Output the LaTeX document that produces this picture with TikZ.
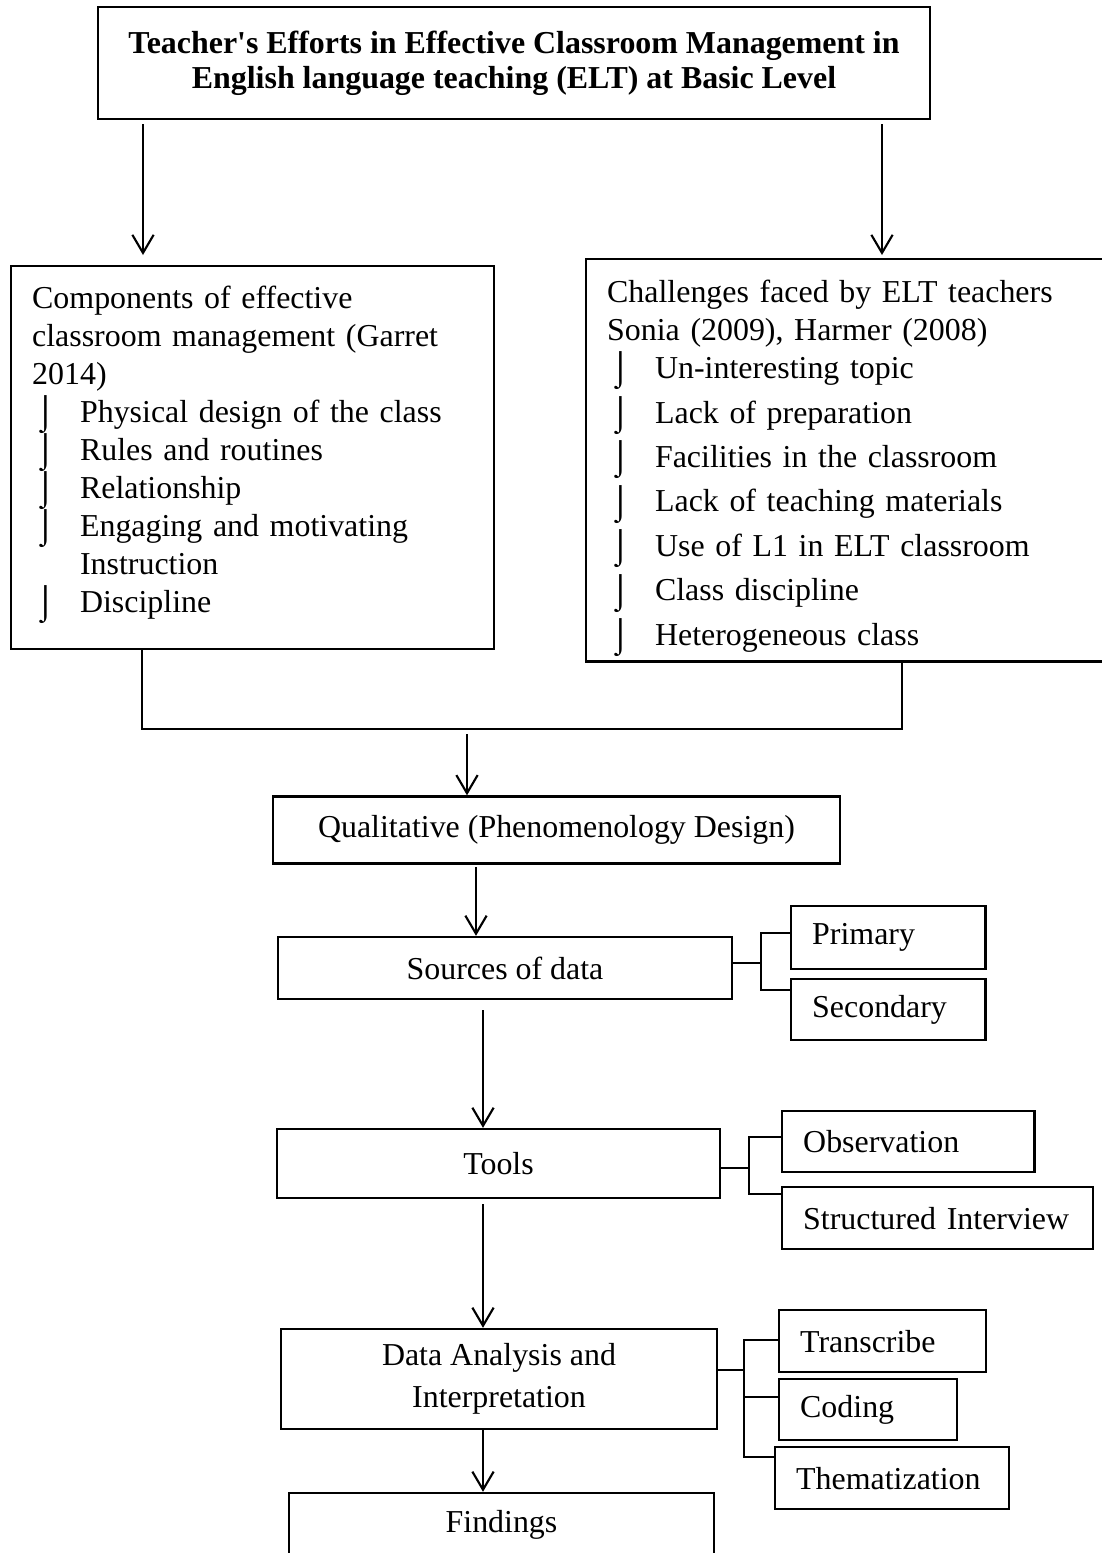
\documentclass[tikz,border=0pt]{standalone}
\usepackage{fontspec}
\usepackage{graphicx}
\setmainfont{Liberation Serif}
\usetikzlibrary{arrows.meta}
\newcommand{\bul}{\smash{\raisebox{-0.5pt}{\scalebox{1.1}[1.05]{⌡}}}}
\newcommand{\itm}[1]{\makebox[18pt][l]{\hspace{1pt}\bul}#1}
\newcommand{\cont}[1]{\makebox[18pt]{}#1}
\tikzset{
block/.style={
  draw, 
  rectangle, 
  line width=0.9pt, 
  inner sep=0pt, 
  align=center
  }, 
listbox/.style={
  block, 
  anchor=north west, 
  inner xsep=7.9pt, 
  align=left
  }, 
line/.style={-{Straight Barb[length=6.8pt,width=8pt]}, line width=0.8pt}, 
link/.style={line width=0.8pt}
}
\begin{document}
\begin{tikzpicture}[x=0.376pt, y=-0.376pt, font=\fontsize{12pt}{14.3pt}\selectfont]
\useasboundingbox (0,0) rectangle (1102,1553);

\node[block, minimum width=312.8pt, minimum height=42.1pt, font=\fontsize{12pt}{13.2pt}\selectfont\bfseries]	(title)	at (514,63)	{Teacher\textquotesingle s Efforts in Effective Classroom Management in \\ English language teaching (ELT) at Basic Level};
\node[listbox, text width=165.8pt, minimum height=144pt]	(comp)	at (10,265)	{Components of effective \\ classroom management (Garret \\ 2014) \\ \itm{Physical design of the class} \\ \itm{Rules and routines} \\ \itm{Relationship} \\ \itm{Engaging and motivating} \\ \cont{Instruction} \\ \itm{Discipline}\rule[-6.4pt]{0pt}{0pt}};
\node[listbox, text width=181.6pt, minimum height=151.2pt]	(chal)	at (585,258)	{\rule{0pt}{12.8pt}Challenges faced by ELT teachers \\ Sonia (2009), Harmer (2008) \\ \itm{Un-interesting topic} \\[2.4pt] \itm{Lack of preparation} \\[2.4pt] \itm{Facilities in the classroom} \\[2.4pt] \itm{Lack of teaching materials} \\[2.4pt] \itm{Use of L1 in ELT classroom} \\[2.4pt] \itm{Class discipline} \\[2.4pt] \itm{Heterogeneous class}};

\node[block, minimum width=213.2pt, minimum height=25.2pt]	(qual)	at (556.5,830)	{Qualitative (Phenomenology Design)};
\node[block, minimum width=170.7pt, minimum height=23.3pt]	(sources)	at (505,968)	{Sources of data};
\node[block, minimum width=166.6pt, minimum height=25.9pt]	(tools)	at (498.5,1163.5)	{Tools};
\node[block, minimum width=163.9pt, minimum height=37.6pt, font=\fontsize{12pt}{15.8pt}\selectfont]	(da)	at (499,1379)	{Data Analysis and \\ Interpretation};
\node[block, minimum width=159.8pt, minimum height=23.7pt]	(findings)	at (501.5,1524.5)	{Findings};

\node[listbox, text width=57.2pt, minimum height=23.7pt]	(primary)	at (790,905)	{Primary};
\node[listbox, text width=57.2pt, minimum height=22.9pt]	(secondary)	at (790,978)	{Secondary};
\node[listbox, text width=79pt, minimum height=22.9pt]	(observation)	at (781,1110)	{Observation};
\node[listbox, text width=101pt, minimum height=23.3pt]	(interview)	at (781,1186)	{Structured Interview};
\node[listbox, text width=62pt, minimum height=23.3pt]	(transcribe)	at (778,1309)	{Transcribe};
\node[listbox, text width=51.1pt, minimum height=22.9pt]	(coding)	at (778,1378)	{Coding};
\node[listbox, text width=72.2pt, minimum height=23.3pt]	(thematization)	at (774,1446)	{Thematization};

% arrow ends and joints
\coordinate (ta) at (143,255);
\coordinate (tb) at (882,255);
\coordinate (ml) at (142,729);
\coordinate (mr) at (902,729);
\coordinate (mq) at (467,734);
\coordinate (c1) at (476,0);
\coordinate (c2) at (483,0);
\coordinate (sb) at (761,963);
\coordinate (sp) at (761,933);
\coordinate (ss) at (761,990);
\coordinate (tm) at (749,1168);
\coordinate (tp) at (749,1137);
\coordinate (ts) at (749,1194);
\coordinate (db) at (744,1370);
\coordinate (dt) at (744,1340);
\coordinate (dc) at (744,1397);
\coordinate (dm) at (744,1457);

\draw[line, shorten <=1.5pt] (title.south -| ta) -- (ta);
\draw[line, shorten <=1.5pt] (title.south -| tb) -- (tb);
\draw[link] (comp.south -| ml) -- (ml) -- (mr) -- (chal.south -| mr);
\draw[line] (mq) -- (qual.north -| mq);
\draw[line, shorten <=1pt] (qual.south -| c1) -- (sources.north -| c1);
\draw[line, shorten <=3.8pt] (sources.south -| c2) -- (tools.north -| c2);
\draw[line, shorten <=1.9pt] (tools.south -| c2) -- (da.north -| c2);
\draw[line] (da.south -| c2) -- (findings.north -| c2);

\draw[link] (sources.east |- sb) -- (sb);
\draw[link] (primary.west |- sp) -- (sp) -- (ss) -- (secondary.west |- ss);
\draw[link] (tools.east |- tm) -- (tm);
\draw[link] (observation.west |- tp) -- (tp) -- (ts) -- (interview.west |- ts);
\draw[link] (da.east |- db) -- (db);
\draw[link] (transcribe.west |- dt) -- (dt) -- (dm) -- (thematization.west |- dm);
\draw[link] (dc) -- (coding.west |- dc);
\end{tikzpicture}
\end{document}
